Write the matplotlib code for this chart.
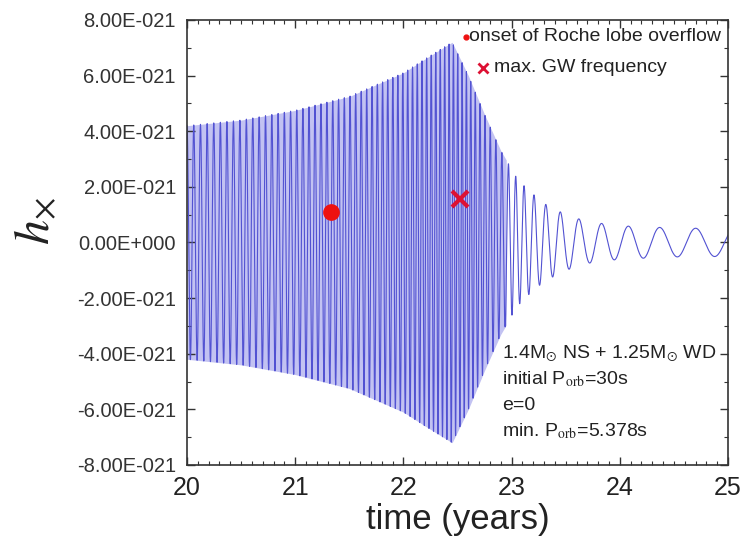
import numpy as np
import matplotlib
matplotlib.use("Agg")
import matplotlib.pyplot as plt
from matplotlib.ticker import MultipleLocator, FixedLocator, FixedFormatter

plt.rcParams['font.family'] = ['Liberation Sans', 'DejaVu Sans']
plt.rcParams['mathtext.fontset'] = 'stix'

# ---- data ----
# envelope of h_x (units of 1e-21) at read-off times (years)
env_t = [20.0, 20.5, 21.0, 21.5, 22.0, 22.2, 22.45, 22.6, 22.75, 22.9, 23.05,
         23.15, 23.3, 23.5, 23.7, 24.0, 24.5, 25.0]
env_a = [4.2, 4.4, 4.75, 5.25, 6.1, 6.6, 7.2, 6.0, 4.6, 3.3, 2.3,
         1.9, 1.4, 1.0, 0.75, 0.6, 0.52, 0.5]
# apparent oscillation frequency (cycles per year) at read-off times
frq_t = [20.0, 21.0, 21.5, 22.0, 22.45, 22.6, 22.8, 23.0, 23.15, 23.3,
         23.5, 23.7, 24.0, 24.4, 25.0]
frq_f = [16.0, 17.5, 19.0, 22.0, 25.0, 25.0, 20.0, 15.0, 11.0, 8.5,
         6.0, 4.8, 3.9, 3.1, 2.7]

rlof_t, rlof_h = [21.33], [1.1e-21]       # onset of Roche lobe overflow
maxgw_t, maxgw_h = [22.52], [1.55e-21]    # max. GW frequency

yticks = [-8e-21, -6e-21, -4e-21, -2e-21, 0.0, 2e-21, 4e-21, 6e-21, 8e-21]
ytick_labels = ['-8.00E-021', '-6.00E-021', '-4.00E-021', '-2.00E-021',
                '0.00E+000', '2.00E-021', '4.00E-021', '6.00E-021', '8.00E-021']
xticks = [20, 21, 22, 23, 24, 25]

info_lines = [r'1.4M$_{\odot}$ NS + 1.25M$_{\odot}$ WD',
              r'initial P$_{\rm orb}$=30s',
              'e=0',
              r'min. P$_{\rm orb}$=5.378s']

# ---- waveform built from read envelope and frequency ----
t = np.linspace(20, 25, 40000)
amp = np.interp(t, env_t, env_a) * 1e-21
freq = np.interp(t, frq_t, frq_f)
phase = 2 * np.pi * np.concatenate([[0], np.cumsum(0.5 * (freq[1:] + freq[:-1]) * np.diff(t))])
h = amp * np.cos(phase)

fig = plt.figure(figsize=(7.46, 5.46), dpi=100)
ax = fig.add_axes([0.2507, 0.1484, 0.7252, 0.815])

dense = t <= 22.95
ax.fill_between(t[dense], -amp[dense], amp[dense], color='#c2c2f2', lw=0)
ax.plot(t, h, color='#5252d2', lw=0.8)
ax.plot(rlof_t, rlof_h, 'o', color='#ee1111', ms=11)
ax.plot(maxgw_t, maxgw_h, 'x', color='#dd1133', ms=12, mew=3)

ax.set_xlim(20, 25)
ax.set_ylim(-8e-21, 8e-21)
ax.xaxis.set_major_locator(FixedLocator(xticks))
ax.xaxis.set_minor_locator(MultipleLocator(0.1))
ax.yaxis.set_major_locator(FixedLocator(yticks))
ax.yaxis.set_major_formatter(FixedFormatter(ytick_labels))
ax.yaxis.set_minor_locator(MultipleLocator(1e-21))
ax.tick_params(which='both', direction='in', top=True, right=True, color='#333333')
ax.tick_params(which='major', length=6, width=1)
ax.tick_params(which='minor', length=3, width=0.8)
ax.tick_params(axis='x', labelsize=18, pad=8, labelcolor='#222222')
ax.tick_params(axis='y', labelsize=14.5, pad=8, labelcolor='#333333')
for s in ax.spines.values():
    s.set_linewidth(1.2)
    s.set_color('#333333')

ax.set_xlabel('time (years)', fontsize=25, color='#222222', labelpad=2)
fig.text(0.048, 0.595, r'$h_{\times}$', rotation=90, fontsize=36, color='#222222',
         ha='center', va='center')

# legend (manual)
ax.plot([0.515], [0.962], 'o', color='#ee1111', ms=3.5, transform=ax.transAxes, clip_on=False)
ax.text(0.522, 0.962, 'onset of Roche lobe overflow', transform=ax.transAxes,
        fontsize=14, va='center', ha='left', color='#222222')
ax.plot([0.548], [0.893], 'x', color='#dd1133', ms=7, mew=2, transform=ax.transAxes, clip_on=False)
ax.text(0.567, 0.893, 'max. GW frequency', transform=ax.transAxes,
        fontsize=14, va='center', ha='left', color='#222222')

for i, line in enumerate(info_lines):
    ax.text(0.583, 0.25 - i * 0.058, line, transform=ax.transAxes,
            fontsize=14, va='center', ha='left', color='#222222')

fig.savefig('out.png', dpi=100)
